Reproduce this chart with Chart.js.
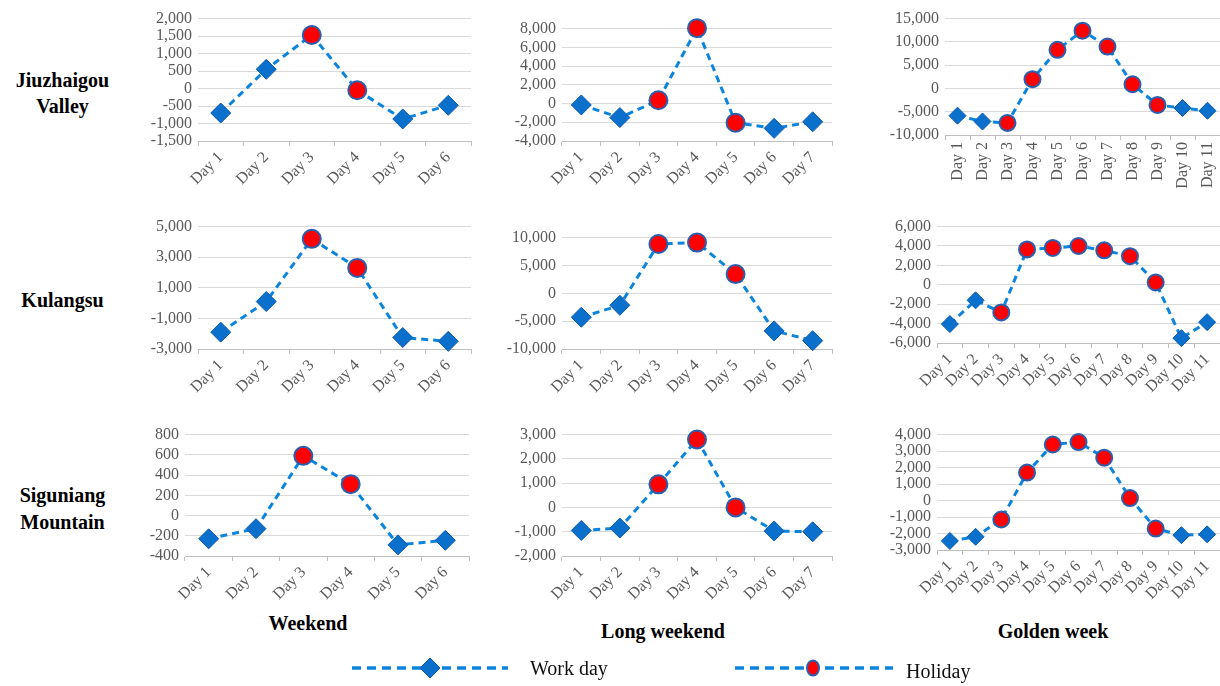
<!DOCTYPE html>
<html>
<head>
<meta charset="utf-8">
<script src="https://cdn.jsdelivr.net/npm/chart.js@4.4.1/dist/chart.umd.min.js"></script>
<style>
  html, body { margin: 0; padding: 0; background: #fff; width: 1220px; height: 686px; overflow: hidden; }
  body { position: relative; font-family: 'Liberation Serif', 'Times New Roman', serif; }
  .box { position: absolute; }
  .row { position: absolute; left: 0; width: 125px; font-weight: bold; font-size: 20px; line-height: 26px; text-align: center; color: #000; }
  .col { position: absolute; font-weight: bold; font-size: 20px; color: #000; transform: translateX(-50%); white-space: nowrap; }
  .leg { position: absolute; font-size: 20px; line-height: 24px; color: #111; white-space: nowrap; }
</style>
</head>
<body>

<div class="row" style="top:67px">Jiuzhaigou<br>Valley</div>
<div class="row" style="top:287px">Kulangsu</div>
<div class="row" style="top:482px; line-height:27px">Siguniang<br>Mountain</div>

<div class="col" style="left:308px; top:612px">Weekend</div>
<div class="col" style="left:663px; top:620px">Long weekend</div>
<div class="col" style="left:1053px; top:620px">Golden week</div>

<canvas id="legend" width="600" height="36" style="position:absolute; left:340px; top:650px"></canvas>
<div class="leg" style="left:530px; top:656px">Work day</div>
<div class="leg" style="left:906px; top:659px">Holiday</div>

<script>
const days6 = ['Day 1', 'Day 2', 'Day 3', 'Day 4', 'Day 5', 'Day 6'];
const days7 = ['Day 1', 'Day 2', 'Day 3', 'Day 4', 'Day 5', 'Day 6', 'Day 7'];
const days11 = ['Day 1', 'Day 2', 'Day 3', 'Day 4', 'Day 5', 'Day 6', 'Day 7', 'Day 8', 'Day 9', 'Day 10', 'Day 11'];

// 1 = holiday, 0 = work day
const weekendHoliday = [0, 0, 1, 1, 0, 0];
const longHoliday = [0, 0, 1, 1, 1, 0, 0];
const goldenHoliday = [0, 0, 1, 1, 1, 1, 1, 1, 1, 0, 0];

const jzWeekend = [-700, 550, 1530, -50, -870, -480];
const jzLong = [-150, -1500, 350, 8050, -2050, -2650, -1950];
const jzGolden = [-5850, -7100, -7400, 2000, 8300, 12400, 9000, 900, -3550, -4200, -4800];

const klWeekend = [-1900, 100, 4200, 2300, -2250, -2500];
const klLong = [-4300, -2150, 8850, 9100, 3450, -6750, -8500];
const klGolden = [-4050, -1600, -2850, 3650, 3800, 4000, 3550, 2950, 250, -5500, -3850];

const sgWeekend = [-230, -130, 590, 310, -290, -245];
const sgLong = [-950, -850, 950, 2800, 0, -970, -1000];
const sgGolden = [-2450, -2200, -1150, 1700, 3400, 3550, 2600, 150, -1700, -2100, -2050];

// y axis ranges: [min, max, step]
const jzWeekendAxis = [-1500, 2000, 500];
const jzLongAxis = [-4000, 8000, 2000];
const jzGoldenAxis = [-10000, 15000, 5000];
const klWeekendAxis = [-3000, 5000, 2000];
const klLongAxis = [-10000, 10000, 5000];
const klGoldenAxis = [-6000, 6000, 2000];
const sgWeekendAxis = [-400, 800, 200];
const sgLongAxis = [-2000, 3000, 1000];
const sgGoldenAxis = [-3000, 4000, 1000];

const LINE = '#0b84de';
const DIAMOND = '#0a70cc';
const FONT = "'Liberation Serif', 'Times New Roman', serif";
const YW = 70, PT = 12, PR = 12, XH = 72;

// plot area [left, right, top, bottom] in page pixels
const panels = [
  { labels: days6, values: jzWeekend, hol: weekendHoliday, axis: jzWeekendAxis, rot: 45, area: [198, 471, 15, 141], small: false },
  { labels: days7, values: jzLong, hol: longHoliday, axis: jzLongAxis, rot: 45, area: [562, 832, 25, 141], small: false },
  { labels: days11, values: jzGolden, hol: goldenHoliday, axis: jzGoldenAxis, rot: 90, area: [945, 1220, 15, 135], small: true },
  { labels: days6, values: klWeekend, hol: weekendHoliday, axis: klWeekendAxis, rot: 45, area: [198, 471, 223, 349], small: false },
  { labels: days7, values: klLong, hol: longHoliday, axis: klLongAxis, rot: 45, area: [562, 832, 234, 349], small: false },
  { labels: days11, values: klGolden, hol: goldenHoliday, axis: klGoldenAxis, rot: 45, area: [937, 1220, 223, 343], small: true },
  { labels: days6, values: sgWeekend, hol: weekendHoliday, axis: sgWeekendAxis, rot: 45, area: [185, 469, 431, 556], small: false },
  { labels: days7, values: sgLong, hol: longHoliday, axis: sgLongAxis, rot: 45, area: [562, 832, 431, 556], small: false },
  { labels: days11, values: sgGolden, hol: goldenHoliday, axis: sgGoldenAxis, rot: 45, area: [937, 1220, 431, 550], small: true },
];

panels.forEach(p => {
  const [l, r, t, b] = p.area;
  const box = document.createElement('div');
  box.className = 'box';
  box.style.left = (l - YW) + 'px';
  box.style.top = (t - PT) + 'px';
  box.style.width = (r - l + YW + PR) + 'px';
  box.style.height = (b - t + PT + XH) + 'px';
  const canvas = document.createElement('canvas');
  box.appendChild(canvas);
  document.body.appendChild(box);

  const cr = p.small ? 8 : 9;
  const dr = p.small ? 8.5 : 10;

  new Chart(canvas.getContext('2d'), {
    type: 'line',
    data: {
      labels: p.labels,
      datasets: [{
        data: p.values,
        borderColor: LINE,
        borderWidth: 3,
        borderDash: [7, 5],
        fill: false,
        tension: 0,
        pointStyle: p.hol.map(h => (h ? 'circle' : 'rectRot')),
        pointRadius: p.hol.map(h => (h ? cr : dr)),
        pointBackgroundColor: p.hol.map(h => (h ? '#ff0000' : DIAMOND)),
        pointBorderColor: p.hol.map(h => (h ? '#2a5fb0' : '#0a5cb0')),
        pointBorderWidth: p.hol.map(h => (h ? 2 : 1)),
        clip: false,
      }],
    },
    options: {
      responsive: true,
      maintainAspectRatio: false,
      animation: false,
      layout: { padding: { top: PT, right: PR, left: 0, bottom: 0 } },
      plugins: { legend: { display: false }, tooltip: { enabled: false } },
      scales: {
        x: {
          offset: true,
          grid: { offset: true, drawOnChartArea: false, drawTicks: true, tickLength: 5, color: '#bfbfbf' },
          border: { display: true, color: '#bfbfbf' },
          ticks: {
            autoSkip: false,
            minRotation: p.rot,
            maxRotation: p.rot,
            color: '#595959',
            padding: 2,
            font: { family: FONT, size: 16 },
          },
          afterFit: s => { s.height = XH; },
        },
        y: {
          min: p.axis[0],
          max: p.axis[1],
          ticks: {
            stepSize: p.axis[2],
            autoSkip: false,
            color: '#595959',
            padding: 6,
            font: { family: FONT, size: 16 },
            callback: v => v.toLocaleString('en-US'),
          },
          grid: { color: '#d9d9d9', drawTicks: false },
          border: { display: false },
          afterFit: s => { s.width = YW; },
        },
      },
    },
  });
});

// legend samples
const lg = document.getElementById('legend').getContext('2d');
function sample(x0, x1, y) {
  lg.save();
  lg.strokeStyle = LINE;
  lg.lineWidth = 3.5;
  lg.setLineDash([9, 6]);
  lg.beginPath();
  lg.moveTo(x0, y);
  lg.lineTo(x1, y);
  lg.stroke();
  lg.restore();
}
sample(12, 168, 18);
lg.fillStyle = DIAMOND;
lg.strokeStyle = '#0a5cb0';
lg.lineWidth = 1;
lg.beginPath();
lg.moveTo(90, 8); lg.lineTo(100, 18); lg.lineTo(90, 28); lg.lineTo(80, 18); lg.closePath();
lg.fill(); lg.stroke();

sample(395, 553, 18);
lg.fillStyle = '#ff0000';
lg.strokeStyle = '#2a5fb0';
lg.lineWidth = 2;
lg.beginPath();
lg.ellipse(473, 18, 6, 7.5, 0, 0, Math.PI * 2);
lg.fill(); lg.stroke();
</script>
</body>
</html>
